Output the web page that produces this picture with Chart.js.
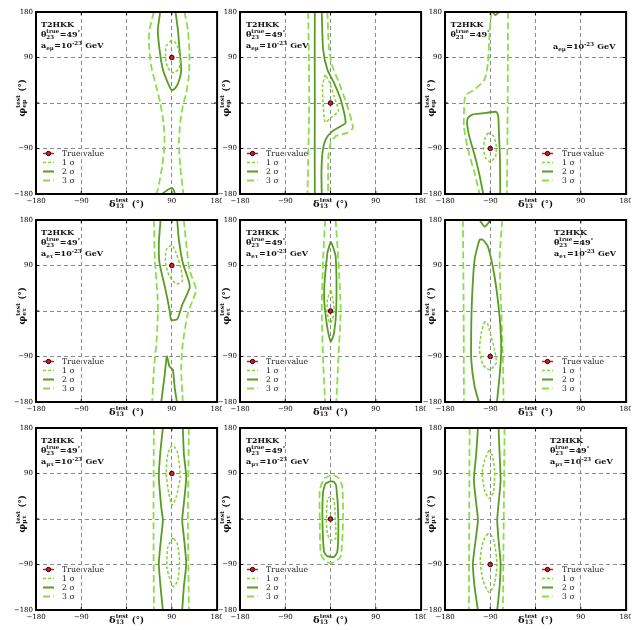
<!DOCTYPE html>
<html>
<head>
<meta charset="utf-8">
<script src="https://cdn.jsdelivr.net/npm/chart.js@4.4.0/dist/chart.umd.min.js"></script>
<style>
  body { margin: 0; background: #fff; }
  #wrap { position: relative; width: 640px; height: 630px; }
  #wrap canvas { position: absolute; }
</style>
</head>
<body>
<div id="wrap"></div>
<script>
// ---- data (degrees: [delta13, phi]) ----
const tickValues = [-180, -90, 0, 90, 180];
const couplings = ['eμ', 'eτ', 'μτ'];
const sigmaLabels = ['1 σ', '2 σ', '3 σ'];
const trueDelta = [90, 0, -90];   // per column
const truePhi = [90, 0, -90];

// row 1: a_eμ
const c11_1s = [[[88.8,124],[78.9,112.4],[77.5,89.4],[82.1,69.6],[92,59.7],[104,67.6],[106.7,86],[102,109],[95.4,122],[88.8,124]]];
const c11_2s = [
  [[67,180],[62.2,145],[65.6,105.8],[72.2,66.3],[82.1,40],[90,25.3],[97.4,30],[104,43],[108.7,66.3],[105.3,105.8],[102,145],[97.4,180]],
  [[70,-180],[80,-173],[90,-168],[94,-173],[96,-180]]
];
const c11_3s = [
  [[54.3,180],[45.7,145],[44.4,119],[49,72.8],[59,33],[67,0.4],[73.5,-39],[75.5,-78.7],[70.9,-125],[62.2,-171],[59,-180]],
  [[115.2,180],[121.8,145],[125.2,99],[123.8,53],[118.6,20],[111.9,-6.3],[106.7,-39],[104,-79],[106.7,-125],[111.9,-171],[113,-180]]
];
const c12_1s = [[[-10.9,56.3],[-16.1,33.2],[-14.8,0.3],[-10.9,-38],[0.3,-29.3],[15.5,-16.1],[6.9,13.5],[-3,43],[-10.9,56.3]]];
const c12_2s = [
  [[-31.3,180],[-31.5,90],[-31.3,0],[-31.5,-90],[-31.3,-180]],
  [[-17.5,180],[-14.8,105.8],[-6.3,66],[6.9,40],[20.1,7],[30,-39],[20.1,-45.8],[3.6,-55.7],[-9.6,-72],[-16.1,-98.5],[-18.1,-138],[-17.5,-180]]
];
const c12_3s = [
  [[-44.5,180],[-43,90],[-42.5,0],[-44,-90],[-45.8,-180]],
  [[-6.3,180],[-3,105.8],[3.6,72.8],[16.8,40],[33.3,-6.3],[44.5,-49],[33.3,-59],[10.2,-65.6],[0.3,-78.7],[-4.3,-105],[-4.9,-138],[-4.9,-180]]
];
const c13_1s = [[[-94.7,-59],[-101.3,-72.2],[-103.3,-91.9],[-99.3,-108.4],[-90,-117],[-79.5,-105],[-78.1,-85],[-83.4,-65.6],[-94.7,-59]]];
const c13_2s = [
  [[-104,-180],[-112,-140],[-122,-100],[-132,-65],[-136,-42],[-134.4,-29.3],[-124.5,-22.7],[-98,-19.4],[-78.1,-17.5],[-74.2,-26],[-72.8,-59],[-70.9,-105],[-70.2,-180]],
  [[-84.8,180],[-79.5,174],[-72.8,180]]
];
const c13_3s = [
  [[-88.1,180],[-91.4,138.7],[-94.7,79.4],[-101.3,46.5],[-121.2,26.7],[-137.8,16.8],[-141.1,6.9],[-142.4,-45.8],[-134.4,-92],[-121.2,-138],[-111.3,-180]],
  [[-55,180],[-55,90],[-55.5,0],[-56,-90],[-57,-180]]
];

// row 2: a_eτ
const c21_1s = [[[88.7,130.8],[78.8,121],[77.5,94.6],[85.4,68.3],[98.7,53.6],[110.6,58.4],[108.6,81.4],[98.7,114.3],[92,128.8],[88.7,130.8]]];
const c21_2s = [
  [[67.6,180],[64.2,134],[65.6,94.6],[77.5,41.9],[85.4,2.4],[88.7,-17.5],[100.7,-16.2],[110.6,12.1],[125.2,45],[123.9,58.4],[112,94.6],[104,140.7],[100.7,180]],
  [[68.9,-180],[75.5,-129.5],[80.1,-89.9],[85.4,-109.7],[92,-116.2],[95.4,-149.2],[100,-180]]
];
const c21_3s = [
  [[54.3,180],[56.3,101],[62.3,15.4],[60.3,-50.5],[54.3,-116],[51,-180]],
  [[113.9,180],[118.6,134],[125.2,81.4],[138.4,41.9],[131.8,22],[121.9,-4.3],[111.9,-63.5],[108.6,-116],[111.9,-180]]
];
const c22_1s = [[[0.3,41.9],[-6.3,22],[-6.3,-4.4],[-1.6,-24.1],[3.6,-17.5],[6.9,2.4],[3.6,28.7],[0.3,41.9]]];
const c22_2s = [[[0.3,137.4],[-6.3,114.3],[-12.9,28.7],[-6.3,-34],[0.3,-60.4],[6.9,-43.9],[11.5,8.8],[10.2,107.8],[3.6,130.8],[0.3,137.4]]];
const c22_3s = [
  [[-10.9,180],[-14.8,101],[-17.5,2.4],[-14.8,-96.6],[-10.9,-180]],
  [[10.2,180],[15.5,101],[20.1,2.4],[15.5,-96.6],[11.5,-180]]
];
const c23_1s = [[[-101.3,-20.8],[-108,-43.8],[-111.3,-76.7],[-104.6,-106.4],[-91.4,-116.2],[-78.1,-103],[-81.5,-76.7],[-90,-43.8],[-96,-24.1],[-101.3,-20.8]]];
const c23_2s = [
  [[-112.6,-180],[-121.2,-149.3],[-127.8,-96.6],[-127.8,-30.6],[-125.8,35.3],[-121.2,101.2],[-111.3,140.7],[-104.6,140.7],[-94.7,127.4],[-81.5,68.2],[-71.5,-11],[-68.2,-76.7],[-71.5,-129.4],[-76.8,-180]],
  [[-111.3,180],[-101.3,167],[-91.4,177],[-90,180]]
];
const c23_3s = [
  [[-144.4,180],[-143,2.4],[-142.4,-180]],
  [[-66.2,180],[-71.5,101],[-68.2,2.4],[-64.9,-96.6],[-63.6,-180]]
];

// row 3: a_μτ
const c31_1s = [
  [[90,146],[82.1,129.4],[78.8,89.8],[84.1,50.3],[90.7,27.3],[98.7,43.7],[106.6,83.3],[102,129.4],[95.4,142.6],[90,146]],
  [[92,-36.6],[82.1,-55],[80.1,-94.6],[86.8,-121],[93.4,-134.1],[102,-121],[105.3,-81.4],[100.7,-48.5],[92,-36.6]]
];
const c31_2s = [
  [[72.2,180],[66.9,129.4],[64.2,83.3],[68.9,24],[72.2,-2.4],[68.9,-35.3],[64.2,-88],[67.6,-134],[72.2,-180]],
  [[111.9,180],[113.9,129.4],[118.6,83.3],[113.9,30.6],[110.6,-2.4],[113.9,-35],[118.6,-88],[113.9,-134],[110.6,-180]]
];
const c31_3s = [
  [[54.3,180],[53.6,0],[54.3,-180]],
  [[123.9,180],[121.9,0],[123.9,-180]]
];
const c32_1s = [[[0.3,45],[-6.3,38.5],[-8.2,-2.4],[-6.3,-28.7],[0.3,-41.9],[10.2,-38.5],[10.2,-15.5],[6.9,37.2],[0.3,45]]];
const c32_2s = [[[0.3,74.8],[-9.6,70.1],[-14.8,53.6],[-16.1,-2.4],[-12.9,-65],[-6.3,-73.5],[6.9,-74.8],[13.5,-65],[15.5,-2.4],[11.5,63.5],[6.9,73.5],[0.3,74.8]]];
const c32_3s = [[[0.3,86.6],[-12.9,80],[-21.4,56.9],[-21.4,-2.4],[-19.4,-68.2],[-9.6,-84.6],[3.6,-86.7],[20.1,-74.8],[24.7,-2.4],[23.4,63.5],[16.8,80],[6.9,86.6],[0.3,86.6]]];
const c33_1s = [
  [[-92.7,136],[-101.3,116.2],[-106,89.8],[-101.3,56.9],[-92.7,40.5],[-83.4,53.6],[-81.5,96.4],[-86.1,126],[-92.7,136]],
  [[-94.7,-28.7],[-104.6,-45.1],[-110,-81.4],[-104.6,-121],[-92.7,-145.4],[-81.5,-127.6],[-76.8,-88],[-81.5,-48.5],[-88.1,-32],[-94.7,-28.7]]
];
const c33_2s = [
  [[-114.6,180],[-117.9,129.4],[-122.5,76.7],[-117.9,30.6],[-114.6,-2.4],[-119.2,-42],[-124.5,-88],[-121.2,-134],[-114.6,-180]],
  [[-73.5,180],[-71.5,129.4],[-69.5,76.7],[-73.5,30.6],[-76.2,-2.4],[-73.5,-42],[-69.5,-88],[-71.5,-134],[-76.2,-180]]
];
const c33_3s = [
  [[-131.1,180],[-132.5,-180]],
  [[-61.6,180],[-64.9,-180]]
];

const contours = [
  [[c11_1s, c11_2s, c11_3s], [c12_1s, c12_2s, c12_3s], [c13_1s, c13_2s, c13_3s]],
  [[c21_1s, c21_2s, c21_3s], [c22_1s, c22_2s, c22_3s], [c23_1s, c23_2s, c23_3s]],
  [[c31_1s, c31_2s, c31_3s], [c32_1s, c32_2s, c32_3s], [c33_1s, c33_2s, c33_3s]]
];

// ---- styles / layout ----
const SERIF = '"DejaVu Serif", serif';
const sigmaColors = ['#86d432', '#5a9c23', '#8ade4a'];
const sigmaDash = [[3, 2], [], [7, 3.5]];
const sigmaWidth = [1.5, 1.8, 1.8];
const trueColor = '#e3161c';
const colLeft = [0, 204, 409];
const rowTop = [4, 212, 420];
// annotation x offsets inside the plot [head lines, coupling line]
const textX = [[[5, 5], [6, 6], [5.5, 108]], [[5, 5], [6, 6], [109, 109]], [[5, 5], [6, 6], [105, 105]]];

function toData(segs) {
  const out = [];
  segs.forEach((seg, i) => {
    if (i) out.push({x: null, y: null});
    seg.forEach(p => out.push({x: p[0], y: p[1]}));
  });
  return out;
}

function rich(ctx, x, y, parts, draw) {
  parts.forEach(p => {
    ctx.font = 'bold ' + p.s + 'px ' + SERIF;
    if (p.t !== undefined) {
      if (draw) ctx.fillText(p.t, x, y);
      x += ctx.measureText(p.t).width;
    } else {
      let w = 0;
      if (p.sub) { if (draw) ctx.fillText(p.sub, x, y + p.dn); w = ctx.measureText(p.sub).width; }
      if (p.sup) { if (draw) ctx.fillText(p.sup, x, y - p.up); w = Math.max(w, ctx.measureText(p.sup).width); }
      x += w + 0.5;
    }
  });
  return x;
}

const xTitle = [{t: 'δ', s: 10}, {sub: '13', sup: 'test', s: 6, dn: 1.5, up: 4.5}, {t: ' (°)', s: 8.5}];
const yTitle = r => [{t: 'φ', s: 10}, {sub: couplings[r], sup: 'test', s: 6, dn: 1.5, up: 4.5}, {t: ' (°)', s: 8.5}];
const thetaTxt = [{t: 'θ', s: 8}, {sub: '23', sup: 'true', s: 5.5, dn: 1.5, up: 3.8}, {t: '=49', s: 8}, {sup: '°', s: 5.5, up: 3.5}];
const aTxt = r => [{t: 'a', s: 8}, {sub: couplings[r], s: 5.5, dn: 1.8}, {t: '=10', s: 8}, {sup: '-23', s: 5.5, up: 3.5}, {t: ' GeV', s: 8}];

const decor = {
  id: 'decor',
  afterDraw(chart, args, o) {
    const {ctx, chartArea: a} = chart;
    const sx = chart.scales.x, sy = chart.scales.y;
    const r = o.row, c = o.col;
    ctx.save();
    // inward tick marks and frame
    ctx.strokeStyle = '#000';
    ctx.lineWidth = 1;
    ctx.beginPath();
    tickValues.slice(1, -1).forEach(v => {
      const px = sx.getPixelForValue(v), py = sy.getPixelForValue(v);
      ctx.moveTo(px, a.bottom); ctx.lineTo(px, a.bottom - 3);
      ctx.moveTo(px, a.top); ctx.lineTo(px, a.top + 3);
      ctx.moveTo(a.left, py); ctx.lineTo(a.left + 3, py);
      ctx.moveTo(a.right, py); ctx.lineTo(a.right - 3, py);
    });
    ctx.stroke();
    ctx.lineWidth = 2;
    ctx.strokeRect(a.left, a.top, a.right - a.left, a.bottom - a.top);

    // axis titles
    ctx.fillStyle = '#111';
    ctx.textBaseline = 'alphabetic';
    ctx.textAlign = 'left';
    let w = rich(ctx, 0, 0, xTitle, false);
    rich(ctx, (a.left + a.right) / 2 - w / 2, a.bottom + 12.5, xTitle, true);
    const yt = yTitle(r);
    w = rich(ctx, 0, 0, yt, false);
    ctx.save();
    ctx.translate(a.left - 11.5, (a.top + a.bottom) / 2 - 5);
    ctx.rotate(-Math.PI / 2);
    rich(ctx, -w / 2, 0, yt, true);
    ctx.restore();

    // annotations
    const [hx, ax] = textX[r][c];
    rich(ctx, a.left + hx, a.top + 14.5, [{t: 'T2HKK', s: 8}], true);
    rich(ctx, a.left + hx, a.top + 25, thetaTxt, true);
    rich(ctx, a.left + ax, a.top + (c === 2 && r === 0 ? 37 : 36), aTxt(r), true);

    // legend
    const lx = c === 2 ? 97 : 7, tx = c === 2 ? 117 : 26;
    const items = [{label: 'True value'}].concat(sigmaLabels.map((l, k) => ({label: l, k})));
    items.forEach((it, i) => {
      const y = a.top + 141.5 + 9 * i;
      ctx.save();
      if (it.k === undefined) {
        ctx.strokeStyle = trueColor; ctx.lineWidth = 1.5;
        ctx.beginPath(); ctx.moveTo(a.left + lx, y); ctx.lineTo(a.left + lx + 11, y); ctx.stroke();
        ctx.beginPath(); ctx.arc(a.left + lx + 5.5, y, 2.2, 0, Math.PI * 2);
        ctx.fillStyle = trueColor; ctx.fill();
        ctx.strokeStyle = '#000'; ctx.lineWidth = 0.9; ctx.stroke();
      } else {
        ctx.strokeStyle = sigmaColors[it.k]; ctx.lineWidth = sigmaWidth[it.k] + 0.2;
        ctx.setLineDash(sigmaDash[it.k]);
        ctx.beginPath(); ctx.moveTo(a.left + lx, y); ctx.lineTo(a.left + lx + 11, y); ctx.stroke();
      }
      ctx.restore();
      ctx.font = '7.8px ' + SERIF;
      ctx.fillStyle = '#222';
      ctx.textBaseline = 'middle';
      ctx.fillText(it.label, a.left + tx, y + 0.5);
      ctx.textBaseline = 'alphabetic';
    });
    ctx.restore();
  }
};

function axis(horizontal) {
  return {
    type: 'linear', min: -180, max: 180,
    ticks: {
      stepSize: 90, autoSkip: false, maxRotation: 0, padding: 3, color: '#000',
      font: {family: SERIF, size: 7},
      callback: v => v === 0 ? '' : (v < 0 ? '\u2212' + (-v) : '' + v)
    },
    grid: {
      drawTicks: false, lineWidth: 1,
      color: ctx => Math.abs(ctx.tick.value) === 180 ? 'rgba(0,0,0,0)' : '#8c8c8c'
    },
    border: {display: false, dash: [4, 3]},
    afterFit: s => {
      if (horizontal) s.height = 16; else s.width = 36;
      s.paddingLeft = s.paddingRight = s.paddingTop = s.paddingBottom = 0;
    }
  };
}

const wrap = document.getElementById('wrap');
for (let r = 0; r < 3; r++) {
  for (let c = 0; c < 3; c++) {
    const cv = document.createElement('canvas');
    cv.width = 222; cv.height = 206;
    cv.style.left = colLeft[c] + 'px';
    cv.style.top = rowTop[r] + 'px';
    wrap.appendChild(cv);
    const sets = contours[r][c].map((segs, k) => ({
      label: sigmaLabels[k],
      data: toData(segs),
      borderColor: sigmaColors[k],
      borderDash: sigmaDash[k],
      borderWidth: sigmaWidth[k],
      pointRadius: 0,
      tension: 0.2,
      fill: false,
      spanGaps: false
    }));
    sets.push({
      label: 'True value',
      data: [{x: trueDelta[c], y: truePhi[c]}],
      showLine: false,
      pointRadius: 2.3,
      pointBackgroundColor: trueColor,
      pointBorderColor: '#000',
      pointBorderWidth: 0.9
    });
    new Chart(cv, {
      type: 'line',
      data: {datasets: sets},
      options: {
        responsive: false, animation: false, events: [],
        layout: {padding: {top: 8, right: 4, left: 0, bottom: 0}},
        plugins: {legend: {display: false}, tooltip: {enabled: false}, decor: {row: r, col: c}},
        scales: {x: axis(true), y: axis(false)}
      },
      plugins: [decor]
    });
  }
}
</script>
</body>
</html>
